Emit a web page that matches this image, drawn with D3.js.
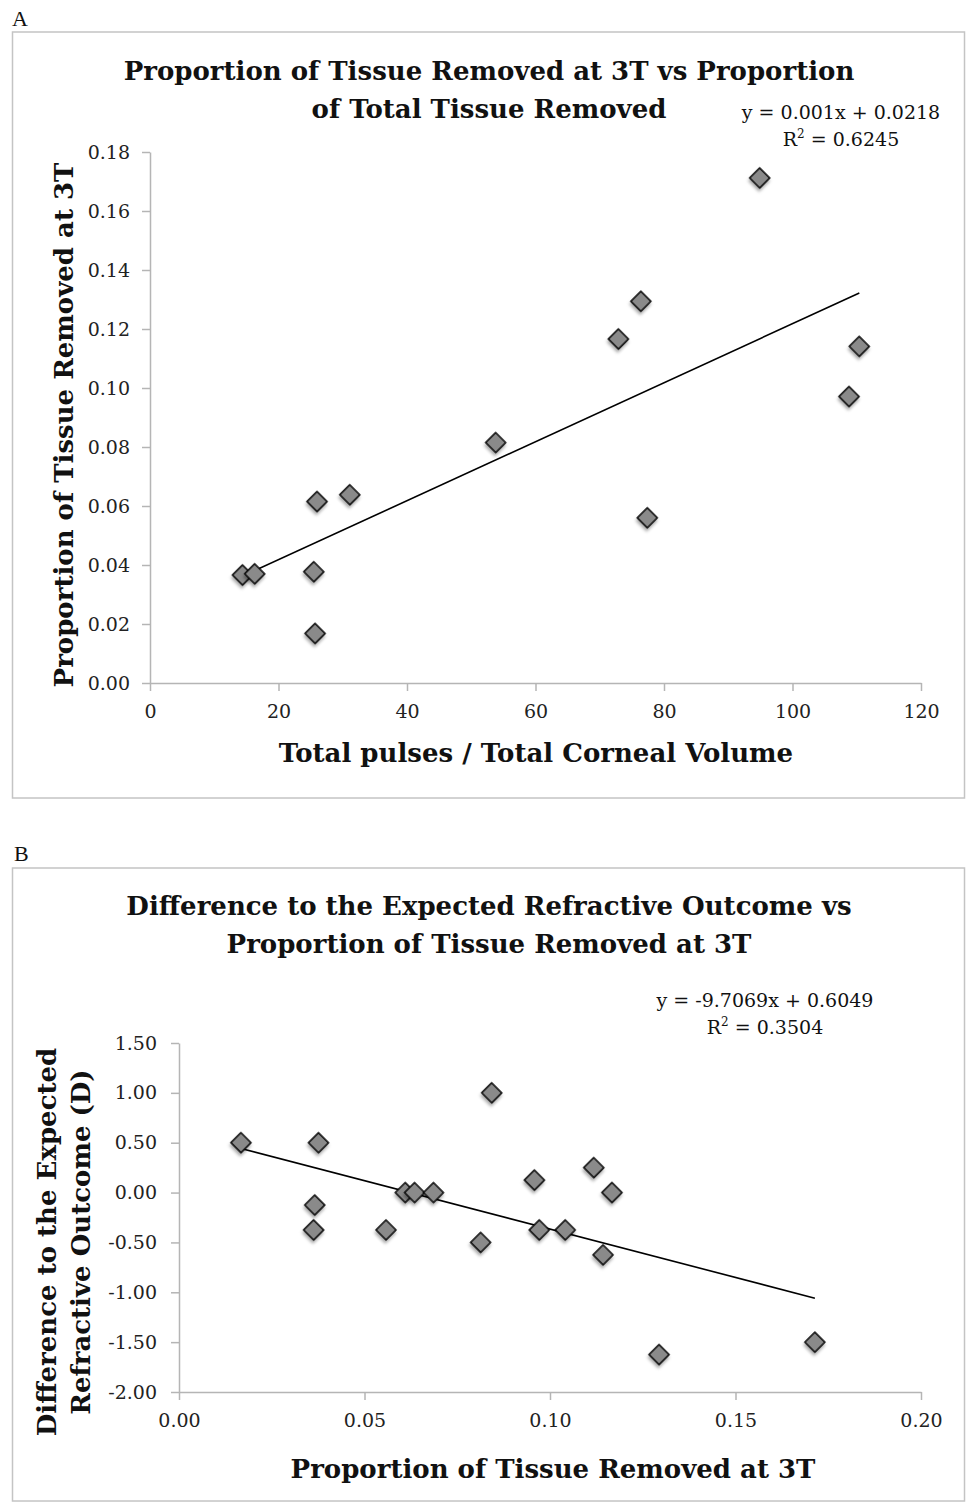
<!DOCTYPE html>
<html lang="en">

<head>
  <meta charset="UTF-8" />
  <script src="https://d3js.org/d3.v7.min.js"></script>
  <style>
    body {
      margin: 0;
      background-color: #ffffff;
      overflow: hidden;
    }

    svg {
      display: block;
    }

    text {
      font-family: "DejaVu Serif", serif;
      fill: #111;
    }

    .axis path,
    .axis line {
      stroke: #b5b5b5;
      stroke-width: 1.5;
    }

    .axis text {
      font-family: "DejaVu Serif", serif;
      font-size: 19px;
      fill: #222;
    }
  </style>
</head>

<body>
  <svg width="966" height="1502"></svg>

  <script>
    // Panel A: proportion at 3T vs pulses / corneal volume
    const aX = [14.4, 16.3, 26.0, 31.1, 25.5, 25.7, 53.8, 72.9, 76.4, 77.4, 94.9, 108.8, 110.4];
    const aY = [0.0366, 0.0370, 0.0615, 0.0638, 0.0377, 0.0168, 0.0815, 0.1166, 0.1294, 0.0560, 0.1712, 0.0971, 0.1141];
    const aTrend = [0.001, 0.0218];          // slope, intercept
    const aXTicks = [0, 20, 40, 60, 80, 100, 120];
    const aYTicks = [0, 0.02, 0.04, 0.06, 0.08, 0.10, 0.12, 0.14, 0.16, 0.18];

    // Panel B: refractive difference vs proportion at 3T
    const bX = [0.0167, 0.0376, 0.0366, 0.0363, 0.0558, 0.0610, 0.0635, 0.0686, 0.0813, 0.0843,
      0.0958, 0.0971, 0.1041, 0.1118, 0.1167, 0.1143, 0.1294, 0.1714];
    const bY = [0.50, 0.50, -0.125, -0.375, -0.375, 0, 0, 0, -0.50, 1.00,
      0.125, -0.375, -0.375, 0.25, 0, -0.625, -1.625, -1.50];
    const bTrend = [-9.7069, 0.6049];
    const bXTicks = [0, 0.05, 0.10, 0.15, 0.20];
    const bYTicks = [-2, -1.5, -1, -0.5, 0, 0.5, 1, 1.5];

    const svg = d3.select("svg");

    // plain hyphen for negatives, like the original
    const locale = d3.formatLocale({ decimal: ".", thousands: ",", grouping: [3], currency: ["", ""], minus: "-" });

    // drop shadow for the diamonds
    const defs = svg.append("defs");
    defs.append("filter")
      .attr("id", "shadow")
      .attr("x", "-50%").attr("y", "-50%")
      .attr("width", "200%").attr("height", "200%")
      .append("feDropShadow")
      .attr("dx", 1.5)
      .attr("dy", 2.5)
      .attr("stdDeviation", 1.6)
      .attr("flood-color", "#000")
      .attr("flood-opacity", 0.35);

    const diamond = d3.symbol().type(d3.symbolSquare).size(200);

    function drawPanel(cfg) {
      const g = svg.append("g");

      // panel letter and frame
      g.append("text")
        .attr("x", cfg.letterX).attr("y", cfg.letterY)
        .style("font-family", "'Liberation Serif', serif")
        .style("font-size", "22px")
        .text(cfg.letter);

      g.append("rect")
        .attr("x", 12.5).attr("y", cfg.box[0])
        .attr("width", 952).attr("height", cfg.box[1] - cfg.box[0])
        .attr("fill", "none")
        .attr("stroke", "#c4c4c4")
        .attr("stroke-width", 1.5);

      const x = d3.scaleLinear().domain(cfg.xDomain).range(cfg.xRange);
      const y = d3.scaleLinear().domain(cfg.yDomain).range(cfg.yRange);

      g.append("g")
        .attr("class", "axis")
        .attr("transform", `translate(0,${cfg.yRange[0]})`)
        .call(d3.axisBottom(x).tickValues(cfg.xTicks).tickFormat(cfg.xFormat)
          .tickSize(8).tickSizeOuter(0).tickPadding(14));

      g.append("g")
        .attr("class", "axis")
        .attr("transform", `translate(${cfg.xRange[0]},0)`)
        .call(d3.axisLeft(y).tickValues(cfg.yTicks).tickFormat(locale.format(".2f"))
          .tickSize(8).tickSizeOuter(0).tickPadding(cfg.yPad));

      // trend line over the data range
      const [lo, hi] = d3.extent(cfg.xs);
      const line = d3.line().x(d => x(d)).y(d => y(cfg.trend[0] * d + cfg.trend[1]));
      g.append("path")
        .attr("d", line([lo, hi]))
        .attr("fill", "none")
        .attr("stroke", "#000")
        .attr("stroke-width", 1.6);

      g.selectAll(".pt")
        .data(cfg.xs.map((v, i) => [v, cfg.ys[i]]))
        .join("path")
        .attr("class", "pt")
        .attr("d", diamond)
        .attr("transform", d => `translate(${x(d[0])},${y(d[1])}) rotate(45)`)
        .attr("fill", "#8a8a8a")
        .attr("stroke", "#000")
        .attr("stroke-width", 1.5)
        .attr("filter", "url(#shadow)");

      // titles
      const title = g.append("text")
        .attr("text-anchor", "middle")
        .style("font-weight", "bold")
        .style("font-size", "26px");
      cfg.title.forEach((t, i) => {
        title.append("tspan").attr("x", 489).attr("y", cfg.titleY + i * 38).text(t);
      });

      // equation
      const eq = g.append("text")
        .attr("text-anchor", "middle")
        .style("font-size", "19px");
      eq.append("tspan").attr("x", cfg.eqX).attr("y", cfg.eqY).text(cfg.eq);
      const r2 = eq.append("tspan").attr("x", cfg.eqX).attr("y", cfg.eqY + 27);
      r2.append("tspan").text("R");
      r2.append("tspan").attr("dy", -8).style("font-size", "12px").text("2");
      r2.append("tspan").attr("dy", 8).text(" = " + cfg.r2);

      // axis labels
      g.append("text")
        .attr("x", cfg.xLabel[0]).attr("y", cfg.xLabel[1])
        .attr("text-anchor", "middle")
        .style("font-weight", "bold")
        .style("font-size", "26px")
        .text(cfg.xTitle);

      cfg.yTitle.forEach((t, i) => {
        g.append("text")
          .attr("transform", `translate(${cfg.yLabelX[i]},${cfg.yLabelY}) rotate(-90)`)
          .attr("text-anchor", "middle")
          .style("font-weight", "bold")
          .style("font-size", "26px")
          .text(t);
      });
    }

    drawPanel({
      letter: "A", letterX: 12, letterY: 26,
      box: [32, 798],
      xs: aX, ys: aY, trend: aTrend,
      xDomain: [0, 120], xRange: [150, 921],
      yDomain: [0, 0.18], yRange: [683, 152],
      xTicks: aXTicks, yTicks: aYTicks,
      xFormat: d3.format("d"), yPad: 12,
      title: ["Proportion of Tissue Removed at 3T vs Proportion", "of Total Tissue Removed"],
      titleY: 80,
      eq: "y = 0.001x + 0.0218", r2: "0.6245", eqX: 841, eqY: 119,
      xTitle: "Total pulses / Total Corneal Volume", xLabel: [536, 762],
      yTitle: ["Proportion of Tissue Removed at 3T"], yLabelX: [73], yLabelY: 425
    });

    drawPanel({
      letter: "B", letterX: 14, letterY: 861,
      box: [868, 1501],
      xs: bX, ys: bY, trend: bTrend,
      xDomain: [0, 0.20], xRange: [179, 921],
      yDomain: [-2, 1.5], yRange: [1392, 1043],
      xTicks: bXTicks, yTicks: bYTicks,
      xFormat: d3.format(".2f"), yPad: 14,
      title: ["Difference to the Expected Refractive Outcome vs", "Proportion of Tissue Removed at 3T"],
      titleY: 915,
      eq: "y = -9.7069x + 0.6049", r2: "0.3504", eqX: 765, eqY: 1007,
      xTitle: "Proportion of Tissue Removed at 3T", xLabel: [553, 1478],
      yTitle: ["Difference to the Expected", "Refractive Outcome (D)"], yLabelX: [56, 90], yLabelY: 1242
    });
  </script>
</body>

</html>
